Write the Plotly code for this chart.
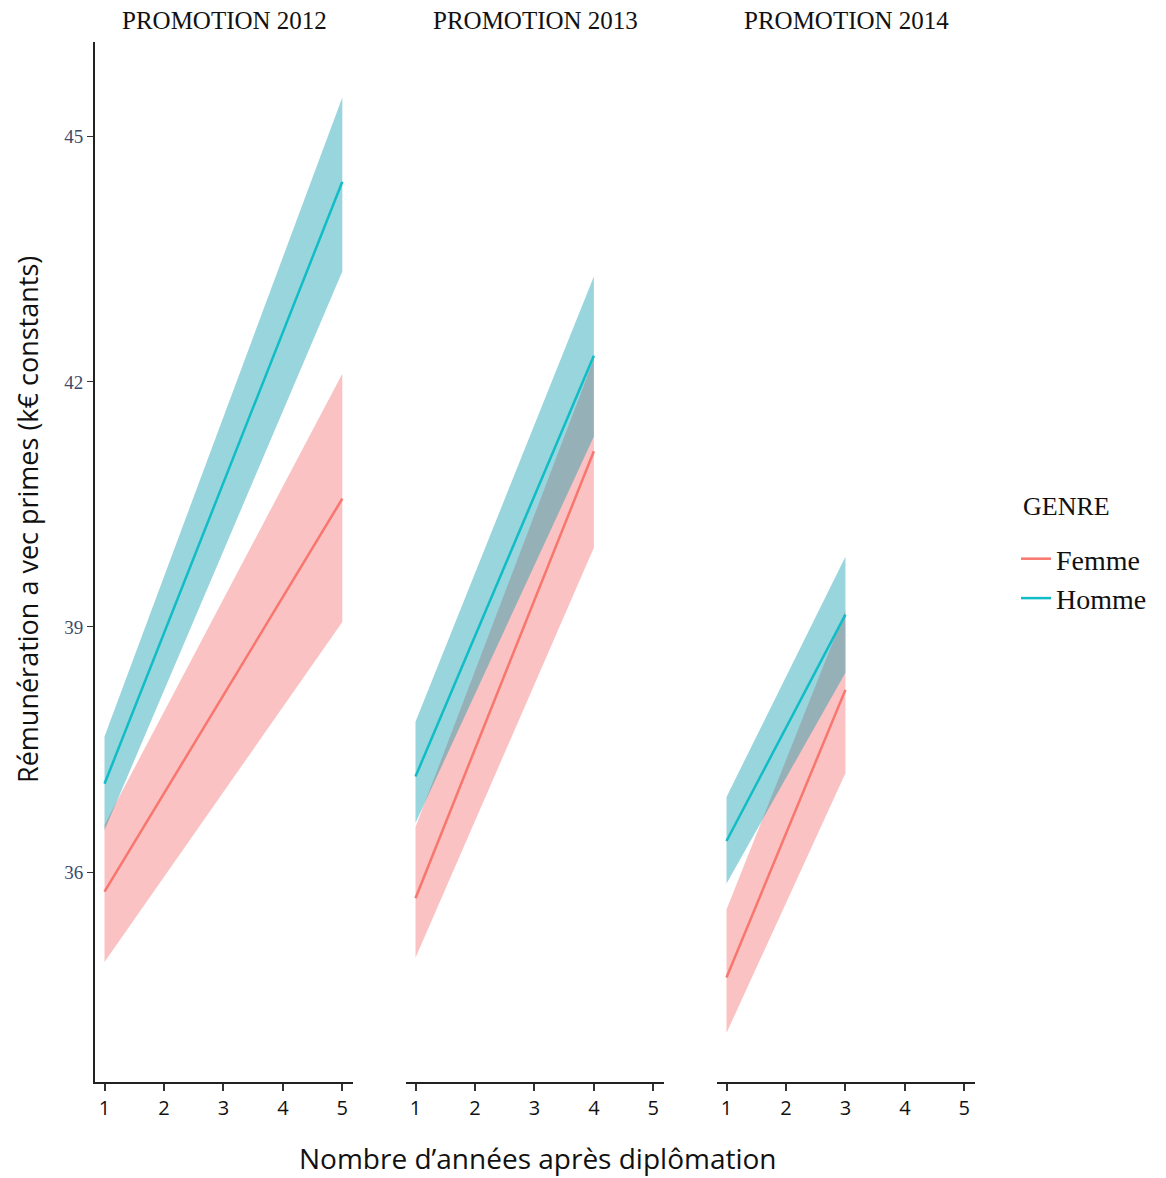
import plotly.graph_objects as go

# ---------------- data ----------------
promotions = ["PROMOTION 2012", "PROMOTION 2013", "PROMOTION 2014"]
genres = ["Femme", "Homme"]

years_2012 = [1, 5]
femme_fit_2012 = [35.76, 40.57]
femme_lo_2012 = [34.90, 39.06]
femme_hi_2012 = [36.58, 42.10]
homme_fit_2012 = [37.08, 44.45]
homme_lo_2012 = [36.51, 43.35]
homme_hi_2012 = [37.66, 45.48]

years_2013 = [1, 4]
femme_fit_2013 = [35.68, 41.15]
femme_lo_2013 = [34.95, 39.97]
femme_hi_2013 = [36.55, 42.28]
homme_fit_2013 = [37.17, 42.32]
homme_lo_2013 = [36.60, 41.33]
homme_hi_2013 = [37.84, 43.29]

years_2014 = [1, 3]
femme_fit_2014 = [34.71, 38.23]
femme_lo_2014 = [34.03, 37.21]
femme_hi_2014 = [35.54, 39.20]
homme_fit_2014 = [36.38, 39.15]
homme_lo_2014 = [35.86, 38.44]
homme_hi_2014 = [36.92, 39.86]

x_ticks = [1, 2, 3, 4, 5]
y_ticks = [36, 39, 42, 45]

# ---------------- styles ----------------
line_col = {"Femme": "#F8766D", "Homme": "#10BDC6"}
fill_col = {"Femme": "rgba(242,110,110,0.42)", "Homme": "rgba(0,150,170,0.40)"}
SERIF = "Liberation Serif, Times New Roman, serif"
SANS = "Open Sans, Noto Sans, sans-serif"

panels = [
    (years_2012, {"Femme": (femme_fit_2012, femme_lo_2012, femme_hi_2012),
                  "Homme": (homme_fit_2012, homme_lo_2012, homme_hi_2012)}),
    (years_2013, {"Femme": (femme_fit_2013, femme_lo_2013, femme_hi_2013),
                  "Homme": (homme_fit_2013, homme_lo_2013, homme_hi_2013)}),
    (years_2014, {"Femme": (femme_fit_2014, femme_lo_2014, femme_hi_2014),
                  "Homme": (homme_fit_2014, homme_lo_2014, homme_hi_2014)}),
]

fig = go.Figure()
for i, (yrs, d) in enumerate(panels):
    xa = "x" if i == 0 else f"x{i+1}"
    ya = "y" if i == 0 else f"y{i+1}"
    for g in genres:
        fit, lo, hi = d[g]
        fig.add_trace(go.Scatter(
            x=list(yrs) + list(yrs)[::-1], y=list(lo) + list(hi)[::-1],
            fill="toself", fillcolor=fill_col[g], line=dict(width=0),
            mode="lines", hoverinfo="skip", showlegend=False,
            xaxis=xa, yaxis=ya))
    for g in genres:
        fit, lo, hi = d[g]
        fig.add_trace(go.Scatter(
            x=yrs, y=fit, mode="lines", name=g,
            line=dict(color=line_col[g], width=2.5),
            showlegend=(i == 0), legendgroup=g,
            xaxis=xa, yaxis=ya))

# ---------------- layout ----------------
W, H = 1166, 1178
L, R, T, B = 95, 191, 42, 96
pw = W - L - R
ph = H - T - B
doms = [(0, 258), (311, 569), (622, 880)]
yr = [33.43, 46.16]

layout = dict(
    width=W, height=H, margin=dict(l=L, r=R, t=T, b=B),
    plot_bgcolor="white", paper_bgcolor="white",
    legend=dict(
        x=(1016 - L) / pw, y=1 - (534 - T) / ph, xanchor="left", yanchor="top",
        font=dict(family=SERIF, size=28, color="#111"),
        itemwidth=30, tracegroupgap=0, bgcolor="rgba(0,0,0,0)"),
)
for i, (a, b) in enumerate(doms):
    key = "" if i == 0 else str(i + 1)
    layout["xaxis" + key] = dict(
        domain=[a / pw, b / pw], range=[0.84, 5.18], anchor="y" + key,
        tickvals=x_ticks, ticktext=[str(v) for v in x_ticks],
        ticks="outside", ticklen=7, tickwidth=1.5, tickcolor="#333",
        showline=True, linecolor="#222", linewidth=2,
        showgrid=False, zeroline=False,
        tickfont=dict(family=SANS, size=20, color="#111"))
    layout["yaxis" + key] = dict(
        range=yr, anchor="x" + key, showgrid=False, zeroline=False,
        showline=(i == 0), linecolor="#222", linewidth=2,
        tickvals=y_ticks, ticktext=[str(v) for v in y_ticks],
        ticks="outside" if i == 0 else "", ticklen=6, tickwidth=1.2,
        tickcolor="#333", showticklabels=(i == 0),
        tickfont=dict(family=SERIF, size=19, color="#3d4a6b"))
fig.update_layout(**layout)

ann = []
for i, (a, b) in enumerate(doms):
    ann.append(dict(text=promotions[i], x=(a + b) / 2 / pw, y=1 + 22 / ph,
                    xref="paper", yref="paper", showarrow=False,
                    xanchor="center", yanchor="middle",
                    font=dict(family=SERIF, size=25, color="#111")))
ann.append(dict(text="GENRE", x=(1021 - L) / pw, y=1 - (507 - T) / ph,
                xref="paper", yref="paper", showarrow=False,
                xanchor="left", yanchor="middle",
                font=dict(family=SERIF, size=26, color="#111")))
ann.append(dict(text="Rémunération a vec primes (k€ constants)",
                x=(27 - L) / pw, y=1 - (520 - T) / ph,
                xref="paper", yref="paper", showarrow=False, textangle=-90,
                xanchor="center", yanchor="middle",
                font=dict(family=SANS, size=27, color="#111")))
ann.append(dict(text="Nombre d’années après diplômation",
                x=(538 - L) / pw, y=-(1158 - (H - B)) / ph,
                xref="paper", yref="paper", showarrow=False,
                xanchor="center", yanchor="middle",
                font=dict(family=SANS, size=28, color="#111")))
fig.update_layout(annotations=ann)

fig.write_html("out.html")
